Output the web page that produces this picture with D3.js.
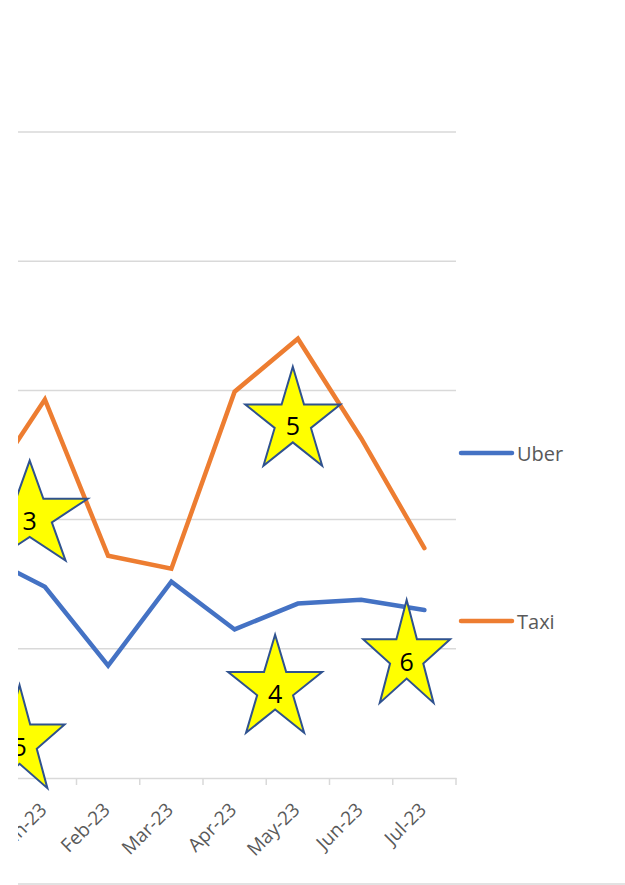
<!DOCTYPE html>
<html>
<head>
<meta charset="utf-8">
<script src="https://cdn.jsdelivr.net/npm/d3@7"></script>
<style>
  html, body { margin: 0; padding: 0; background: #fff; }
  svg { display: block; font-family: "Open Sans", Lato, sans-serif; }
</style>
</head>
<body>
<div class="graph"></div>
<script>
const width = 625;
const height = 885;
const margin = {top: 132, right: 169, bottom: 107, left: -50};
const innerWidth = width - margin.left - margin.right;
const innerHeight = height - margin.top - margin.bottom;

// data
const months = ['Dec-22', 'Jan-23', 'Feb-23', 'Mar-23', 'Apr-23', 'May-23', 'Jun-23', 'Jul-23'];
const uber = [17.3, 14.8, 8.7, 15.2, 11.5, 13.5, 13.8, 13.0];
const taxi = [21.9, 29.3, 17.2, 16.2, 29.9, 34.0, 26.3, 17.8];
const seriesNames = ['Uber', 'Taxi'];
const seriesColors = ['#4472C4', '#ED7D31'];
const yTicks = [0, 10, 20, 30, 40, 50];

// star callouts (category position, value, label)
const starLabels = ['5', '3', '5', '4', '6'];
const starPos = [0.60, 0.76, 4.92, 4.64, 6.72];
const starVal = [3.2, 20.7, 28.0, 7.3, 9.8];
const starSize = [[90, 103], [116, 100], [95, 99], [94, 98], [87, 103]];

const svg = d3.select('.graph').append('svg')
  .attr('width', width)
  .attr('height', height);

svg.append('defs').append('clipPath')
  .attr('id', 'crop')
  .append('rect')
  .attr('x', 18).attr('y', 0)
  .attr('width', width - 18).attr('height', height);

const root = svg.append('g').attr('clip-path', 'url(#crop)');

const chart = root.append('g')
  .attr('transform', `translate(${margin.left}, ${margin.top})`);

const xScale = d3.scaleBand()
  .domain(months)
  .range([0, innerWidth])
  .padding(0);

const xPos = d3.scaleLinear()
  .domain([0, months.length - 1])
  .range([xScale(months[0]) + xScale.bandwidth() / 2,
          xScale(months[months.length - 1]) + xScale.bandwidth() / 2]);

const yScale = d3.scaleLinear()
  .domain([0, 50])
  .range([innerHeight, 0]);

// gridlines
chart.append('g')
  .selectAll('line')
  .data(yTicks.slice(1))
  .join('line')
    .attr('x1', 0)
    .attr('x2', innerWidth)
    .attr('y1', d => yScale(d))
    .attr('y2', d => yScale(d))
    .attr('stroke', '#D9D9D9')
    .attr('stroke-width', 1.5);

// x axis
const xAxis = d3.axisBottom(xScale).tickSize(0).tickPadding(0);
const xg = chart.append('g')
  .attr('transform', `translate(0, ${innerHeight})`)
  .call(xAxis);
xg.select('.domain').attr('stroke', '#D9D9D9').attr('stroke-width', 1.5);

// tick marks at category boundaries
const bounds = months.map(m => xScale(m)).concat([innerWidth]);
xg.selectAll('.bound')
  .data(bounds)
  .join('line')
    .attr('class', 'bound')
    .attr('x1', d => d).attr('x2', d => d)
    .attr('y1', 0).attr('y2', 7)
    .attr('stroke', '#D9D9D9')
    .attr('stroke-width', 1.5);

xg.selectAll('.tick text')
  .attr('font-size', 19)
  .attr('fill', '#595959')
  .attr('font-family', '"Open Sans", Lato, sans-serif')
  .attr('text-anchor', 'end')
  .attr('dy', 0)
  .attr('transform', 'translate(3, 33) rotate(-45)');

// lines
const line = d3.line()
  .x((d, i) => xScale(months[i]) + xScale.bandwidth() / 2)
  .y(d => yScale(d));

[uber, taxi].forEach((values, k) => {
  chart.append('path')
    .datum(values)
    .attr('d', line)
    .attr('fill', 'none')
    .attr('stroke', seriesColors[k])
    .attr('stroke-width', 4.5)
    .attr('stroke-linejoin', 'miter')
    .attr('stroke-linecap', 'round');
});

// star shape fitted to a w x h box
const starPoints = (w, h) => {
  const pts = [];
  for (let i = 0; i < 10; i++) {
    const r = i % 2 === 0 ? 1 : 0.38196;
    const a = -Math.PI / 2 + i * Math.PI / 5;
    const px = r * Math.cos(a), py = r * Math.sin(a);
    pts.push([px / 0.95106 * w / 2, (py + 1) / 1.80902 * h - h / 2]);
  }
  return pts;
};

const stars = chart.append('g')
  .selectAll('g')
  .data(starLabels)
  .join('g')
    .attr('transform', (d, i) => `translate(${xPos(starPos[i])}, ${yScale(starVal[i])})`);

stars.append('polygon')
  .attr('points', (d, i) => starPoints(starSize[i][0], starSize[i][1]).join(' '))
  .attr('fill', '#FFFF00')
  .attr('stroke', '#2F528F')
  .attr('stroke-width', 2)
  .attr('stroke-linejoin', 'miter');

stars.append('text')
  .attr('text-anchor', 'middle')
  .attr('dominant-baseline', 'central')
  .attr('y', (d, i) => 0.09 * starSize[i][1])
  .attr('font-size', 25)
  .attr('fill', '#000')
  .text(d => d);

// legend
const legend = root.append('g');
const legendY = [453, 621];
seriesNames.forEach((name, k) => {
  legend.append('line')
    .attr('x1', 461).attr('x2', 512)
    .attr('y1', legendY[k]).attr('y2', legendY[k])
    .attr('stroke', seriesColors[k])
    .attr('stroke-width', 4.5)
    .attr('stroke-linecap', 'round');
  legend.append('text')
    .attr('x', 517)
    .attr('y', legendY[k])
    .attr('dominant-baseline', 'central')
    .attr('font-size', 20)
    .attr('fill', '#595959')
    .text(name);
});

// chart frame bottom edge
root.append('line')
  .attr('x1', 18).attr('x2', width)
  .attr('y1', 884).attr('y2', 884)
  .attr('stroke', '#D9D9D9')
  .attr('stroke-width', 1.5);
</script>
</body>
</html>
